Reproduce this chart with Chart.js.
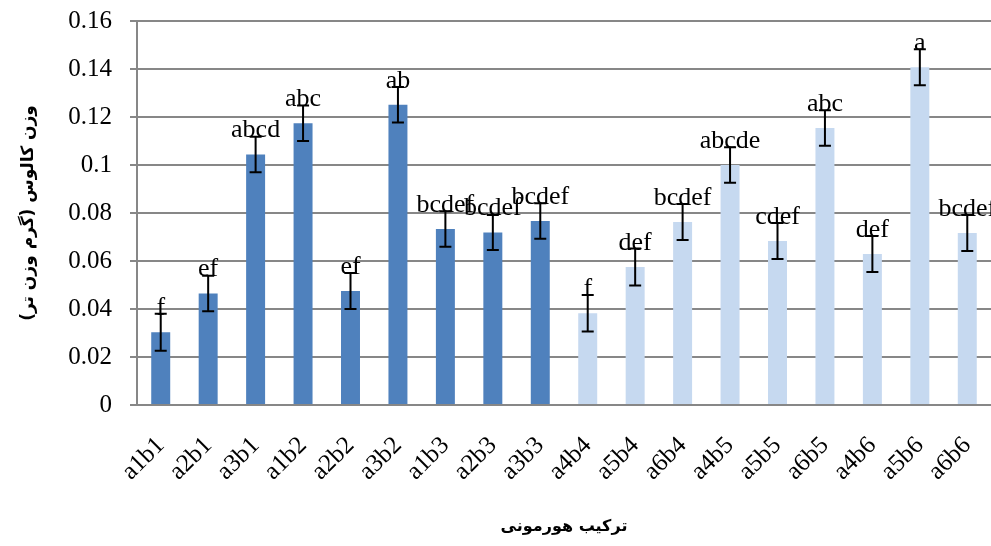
<!DOCTYPE html>
<html>
<head>
<meta charset="utf-8">
<script src="https://cdn.jsdelivr.net/npm/chart.js@4"></script>
<style>
  html, body { margin: 0; padding: 0; background: #fff; }
  #wrap { width: 991px; height: 546px; }
</style>
</head>
<body>
<div id="wrap"><canvas id="chart" dir="rtl"></canvas></div>
<script>
// data
const categories = ['a1b1', 'a2b1', 'a3b1', 'a1b2', 'a2b2', 'a3b2', 'a1b3', 'a2b3', 'a3b3',
  'a4b4', 'a5b4', 'a6b4', 'a4b5', 'a5b5', 'a6b5', 'a4b6', 'a5b6', 'a6b6'];
const values = [0.0303, 0.0465, 0.1044, 0.1174, 0.0475, 0.1251, 0.0733, 0.0719, 0.0767,
  0.0382, 0.0575, 0.0763, 0.1000, 0.0683, 0.1154, 0.0629, 0.1407, 0.0717];
const errors = [0.0077, 0.0074, 0.0074, 0.0074, 0.0075, 0.0074, 0.0074, 0.0073, 0.0074,
  0.0076, 0.0077, 0.0075, 0.0074, 0.0075, 0.0074, 0.0075, 0.0075, 0.0075];
const letters = ['f', 'ef', 'abcd', 'abc', 'ef', 'ab', 'bcdef', 'bcdef', 'bcdef',
  'f', 'def', 'bcdef', 'abcde', 'cdef', 'abc', 'def', 'a', 'bcdef'];
const yTicks = [0, 0.02, 0.04, 0.06, 0.08, 0.1, 0.12, 0.14, 0.16];

const dark = '#4F81BD';
const light = '#C6D9F0';
const gridColor = '#878787';

// error bars + letters above each bar
const errorBars = {
  id: 'errorBars',
  afterDatasetsDraw(chart) {
    const ctx = chart.ctx;
    const y = chart.scales.y;
    const meta = chart.getDatasetMeta(0);
    ctx.save();
    ctx.strokeStyle = '#000';
    ctx.lineWidth = 2;
    meta.data.forEach((bar, i) => {
      const top = y.getPixelForValue(values[i] + errors[i]);
      const bot = y.getPixelForValue(values[i] - errors[i]);
      ctx.beginPath();
      ctx.moveTo(bar.x, top); ctx.lineTo(bar.x, bot);
      ctx.moveTo(bar.x - 6, top); ctx.lineTo(bar.x + 6, top);
      ctx.moveTo(bar.x - 6, bot); ctx.lineTo(bar.x + 6, bot);
      ctx.stroke();
    });
    ctx.fillStyle = '#000';
    ctx.font = '26px "Liberation Serif"';
    ctx.textAlign = 'center';
    ctx.textBaseline = 'alphabetic';
    meta.data.forEach((bar, i) => {
      ctx.fillText(letters[i], bar.x, bar.y - 17);
    });
    ctx.restore();
  }
};

const ctx = document.getElementById('chart').getContext('2d');
new Chart(ctx, {
  type: 'bar',
  data: {
    labels: categories,
    datasets: [{
      data: values,
      backgroundColor: c => c.dataIndex < 9 ? dark : light,
      barPercentage: 0.4,
      categoryPercentage: 1.0
    }]
  },
  options: {
    responsive: true,
    maintainAspectRatio: false,
    animation: false,
    layout: { padding: { top: 21, right: 0, left: 0, bottom: 0 } },
    plugins: { legend: { display: false }, tooltip: { enabled: false } },
    scales: {
      x: {
        grid: { display: false, drawTicks: false },
        border: { display: true, color: gridColor, width: 2 },
        ticks: {
          color: '#000',
          font: { family: 'Liberation Serif', size: 25 },
          maxRotation: 45, minRotation: 45,
          padding: 26,
          autoSkip: false
        },
        title: {
          display: true,
          text: 'ترکیب هورمونی',
          color: '#000',
          font: { family: 'DejaVu Sans', size: 16, weight: 'bold' },
          padding: { top: 0, bottom: 10 }
        },
        afterFit(scale) {
          scale.height = 141;
          scale.paddingLeft = 0;
          scale.paddingRight = 0;
          scale.paddingTop = 0;
          scale.paddingBottom = 0;
        }
      },
      y: {
        min: 0, max: 0.16,
        afterBuildTicks(scale) {
          scale.ticks = yTicks.map(v => ({ value: v }));
        },
        grid: { color: gridColor, lineWidth: 2, tickLength: 7 },
        border: { display: true, color: gridColor, width: 2 },
        ticks: {
          color: '#000',
          font: { family: 'Liberation Serif', size: 25 },
          padding: 18,
          callback: v => String(+v.toFixed(2))
        },
        title: {
          display: true,
          text: 'وزن کالوس (گرم وزن تر)',
          color: '#000',
          font: { family: 'DejaVu Sans', size: 17, weight: 'bold' },
          padding: { top: 18, bottom: 0 }
        },
        afterFit(scale) {
          scale.width = 137;
          scale.paddingTop = 0;
          scale.paddingBottom = 0;
        }
      }
    }
  },
  plugins: [errorBars]
});
</script>
</body>
</html>
